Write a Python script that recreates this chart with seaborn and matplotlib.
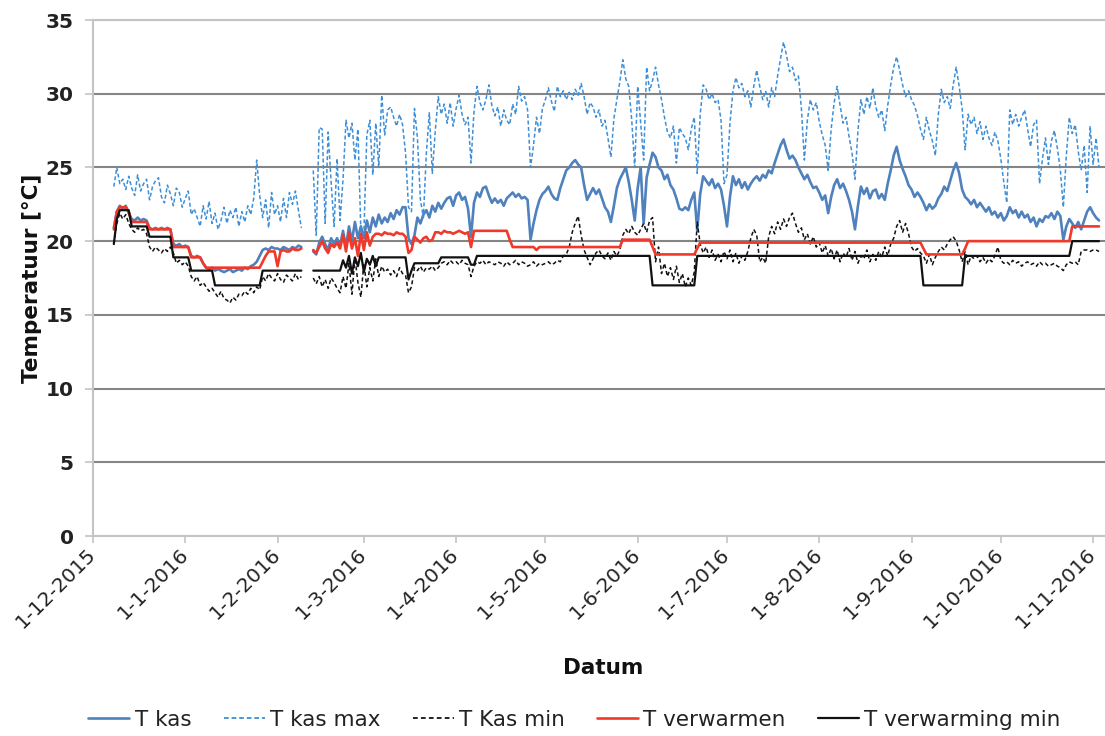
import numpy as np
import pandas as pd
import matplotlib
matplotlib.use("Agg")
import matplotlib.pyplot as plt
import matplotlib.dates as mdates
from matplotlib.lines import Line2D
import seaborn as sns

# Daily greenhouse temperatures, 8-12-2015 .. 3-11-2016 (None = no measurement)
start_date = "2015-12-08"

t_kas = [
    20.9, 22.0, 22.4, 22.2, 22.4, 21.9, 21.5, 21.4, 21.6, 21.4, 21.5, 21.4, 20.9, 20.8, 20.9, 20.8, 20.9, 20.8, 20.9, 20.8, 19.8, 19.7, 19.8, 19.6,
    19.7, 19.6, 19.0, 18.9, 19.0, 18.9, 18.5, 18.2, 18.1, 18.2, 18.0, 18.1, 18.0, 17.9, 18.0, 18.1, 17.9, 18.0, 18.1, 18.0, 18.2, 18.1, 18.3, 18.4, 18.6, 19.0, 19.4, 19.5, 19.4, 19.6, 19.5,
    19.5, 19.4, 19.6, 19.5, 19.4, 19.6, 19.5, 19.7, 19.6, None, None, None, 19.3, 19.1, 19.9, 20.3, 19.8, 19.4, 20.2, 19.8, 20.2, 19.7, 20.7, 19.6, 21.0, 20.0, 21.3, 20.2, 21.0,
    20.2, 21.4, 20.6, 21.6, 21.0, 21.8, 21.2, 21.6, 21.3, 21.9, 21.5, 22.1, 21.8, 22.3, 22.3, 20.2, 19.8, 20.4, 21.6, 21.2, 21.8, 22.1, 21.6, 22.4, 22.0, 22.6, 22.2, 22.6, 22.9, 23.0, 22.4,
    23.1, 23.3, 22.8, 23.0, 22.2, 20.3, 22.6, 23.3, 23.0, 23.6, 23.7, 23.1, 22.6, 22.9, 22.6, 22.8, 22.4, 22.9, 23.1, 23.3, 23.0, 23.2, 22.9, 23.0, 22.8, 20.1, 21.2, 22.1, 22.8, 23.2,
    23.4, 23.7, 23.2, 22.9, 22.8, 23.6, 24.2, 24.8, 25.0, 25.3, 25.5, 25.2, 25.0, 23.8, 22.8, 23.2, 23.6, 23.2, 23.5, 22.9, 22.3, 22.0, 21.3, 22.4, 23.6, 24.2, 24.6, 25.0, 24.0, 22.8, 21.4,
    23.6, 25.0, 21.2, 24.3, 25.2, 26.0, 25.7, 25.0, 24.8, 24.2, 24.5, 23.8, 23.5, 22.9, 22.2, 22.1, 22.3, 22.1, 22.8, 23.3, 20.7, 23.2, 24.4, 24.1, 23.8, 24.2, 23.6, 23.9, 23.5, 22.4,
    21.0, 23.0, 24.4, 23.8, 24.2, 23.6, 24.0, 23.5, 23.9, 24.2, 24.4, 24.1, 24.5, 24.3, 24.8, 24.6, 25.3, 25.9, 26.5, 26.9, 26.2, 25.6, 25.8, 25.5, 25.0, 24.6, 24.2, 24.5, 24.0, 23.6, 23.7,
    23.3, 22.8, 23.1, 21.9, 23.0, 23.8, 24.2, 23.6, 23.9, 23.4, 22.8, 22.0, 20.8, 22.4, 23.7, 23.2, 23.6, 22.9, 23.4, 23.5, 22.9, 23.2, 22.8, 23.9, 24.8, 25.8, 26.4, 25.5, 24.9, 24.4, 23.8,
    23.5, 23.0, 23.3, 23.0, 22.6, 22.1, 22.5, 22.2, 22.4, 22.9, 23.2, 23.7, 23.4, 24.1, 24.8, 25.3, 24.6, 23.5, 23.0, 22.8, 22.5, 22.8, 22.3, 22.6, 22.3, 22.0, 22.3, 21.8, 22.0, 21.6,
    21.9, 21.4, 21.7, 22.3, 21.9, 22.1, 21.6, 22.0, 21.6, 21.8, 21.3, 21.6, 21.0, 21.5, 21.3, 21.7, 21.6, 21.9, 21.5, 22.0, 21.7, 20.1, 21.0, 21.5, 21.2, 20.9, 21.3, 20.8, 21.4, 22.0, 22.3,
    21.9, 21.6, 21.4,
]

t_kas_max = [
    23.7, 25.0, 23.9, 24.2, 23.5, 24.4, 23.6, 23.1, 24.5, 23.4, 23.9, 24.2, 22.8, 23.7, 24.1, 24.3, 23.0, 22.6, 23.8, 23.2, 22.4, 23.6, 23.3, 22.3,
    22.9, 23.4, 21.8, 22.2, 21.6, 21.0, 22.4, 21.5, 22.7, 21.2, 21.9, 20.8, 21.4, 22.3, 21.2, 22.1, 21.6, 22.3, 21.0, 22.0, 21.3, 22.4, 21.8, 22.9, 25.5, 23.1, 21.6, 22.8, 20.9, 23.3, 21.8,
    22.4, 21.3, 22.9, 21.6, 23.3, 22.5, 23.4, 22.1, 20.9, None, None, None, 24.8, 20.4, 27.7, 27.6, 21.2, 27.4, 24.0, 21.0, 25.6, 21.4, 24.2, 28.2, 27.0, 28.0, 25.5, 27.6, 20.6,
    20.5, 27.2, 28.2, 24.5, 28.0, 25.0, 29.9, 27.2, 28.9, 29.1, 28.4, 27.8, 28.6, 27.9, 26.0, 22.3, 22.0, 29.0, 27.0, 22.8, 21.6, 26.0, 28.7, 24.6, 27.5, 29.8, 28.6, 29.3, 28.0, 29.4, 27.8,
    29.0, 29.9, 28.6, 27.9, 28.4, 25.3, 28.8, 30.5, 29.4, 28.9, 29.6, 30.6, 29.2, 28.5, 29.1, 27.8, 28.9, 28.2, 27.9, 29.3, 28.6, 30.5, 29.5, 29.8, 28.9, 25.0, 26.5, 28.4, 27.3, 29.0,
    29.6, 30.4, 29.5, 28.8, 30.5, 29.8, 30.2, 29.6, 30.1, 29.6, 30.3, 29.9, 30.7, 29.8, 28.6, 29.4, 29.1, 28.4, 28.9, 27.8, 28.2, 27.0, 25.7, 28.3, 29.6, 30.8, 32.3, 31.0, 30.5, 28.2, 25.0,
    30.5, 28.0, 25.5, 31.8, 30.2, 30.9, 31.8, 30.6, 29.6, 28.4, 27.4, 27.0, 27.8, 25.3, 27.7, 27.3, 27.0, 26.2, 27.6, 28.4, 24.6, 28.6, 30.6, 30.3, 29.6, 30.0, 29.4, 29.6, 28.2, 23.9,
    24.5, 28.0, 30.2, 31.1, 30.4, 30.7, 29.8, 30.2, 29.1, 30.5, 31.6, 30.5, 29.6, 30.2, 29.1, 30.4, 29.8, 31.2, 32.4, 33.5, 32.6, 31.5, 31.8, 30.9, 31.2, 29.0, 25.5, 28.2, 29.6, 28.9, 29.4,
    28.1, 27.2, 26.5, 24.8, 27.6, 29.4, 30.5, 29.2, 28.0, 28.4, 27.1, 26.0, 24.2, 27.5, 29.6, 28.6, 29.8, 29.0, 30.4, 29.1, 28.4, 28.9, 27.5, 29.2, 30.6, 31.8, 32.5, 31.6, 30.6, 29.8, 30.2,
    29.6, 29.2, 28.5, 27.6, 26.9, 28.4, 27.5, 26.8, 25.8, 28.6, 30.3, 29.4, 29.8, 29.0, 30.6, 31.8, 30.5, 29.0, 26.2, 28.6, 27.9, 28.4, 27.3, 28.1, 26.9, 27.8, 27.0, 26.5, 27.4, 26.8,
    25.6, 24.0, 22.6, 28.9, 27.9, 28.6, 27.8, 28.4, 28.9, 27.6, 26.4, 27.9, 28.2, 23.9, 25.6, 27.0, 25.2, 26.8, 27.5, 26.3, 24.8, 22.3, 25.8, 28.4, 27.3, 27.9, 26.1, 24.8, 26.5, 23.3, 27.8,
    25.2, 27.0, 25.0,
]

t_kas_min = [
    19.8, 21.2, 21.9, 21.5, 21.8, 21.2, 20.8, 20.6, 20.9, 20.7, 20.8, 20.5, 19.6, 19.3, 19.6, 19.4, 19.2, 19.5, 19.3, 19.6, 19.2, 18.5, 18.7, 18.4,
    18.6, 18.3, 17.6, 17.3, 17.6, 17.0, 17.2, 16.9, 16.6, 16.8, 16.5, 16.2, 16.6, 16.1, 16.0, 15.8, 16.2, 16.0, 16.4, 16.3, 16.6, 16.4, 16.8, 16.5, 16.9, 16.7, 17.6, 17.3, 17.8, 17.5, 17.3,
    17.8, 17.4, 17.2, 17.7, 17.5, 17.3, 17.8, 17.4, 17.6, None, None, None, 17.5, 17.1, 17.6, 16.9, 17.4, 16.8, 17.5, 17.2, 16.8, 16.5, 17.6, 16.8, 18.5, 16.4, 18.9, 17.2, 16.2,
    18.5, 16.9, 18.2, 17.3, 18.8, 17.6, 18.3, 17.9, 18.1, 17.7, 18.0, 17.6, 18.2, 17.8, 17.7, 16.5, 16.9, 18.2, 18.0, 18.3, 17.9, 18.2, 18.1, 18.3, 18.0, 18.2, 18.5, 18.6, 18.4, 18.7, 18.5,
    18.6, 18.4, 18.7, 18.5, 18.4, 17.6, 18.3, 18.6, 18.5, 18.7, 18.4, 18.6, 18.5, 18.4, 18.6, 18.5, 18.3, 18.6, 18.4, 18.5, 18.7, 18.4, 18.6, 18.5, 18.3, 18.4, 18.6, 18.3, 18.5, 18.4,
    18.5, 18.6, 18.4, 18.5, 18.7, 18.6, 19.0, 19.1, 19.6, 20.6, 21.2, 21.7, 20.4, 19.4, 18.9, 18.4, 18.8, 19.2, 19.4, 19.0, 18.8, 19.2, 18.7, 19.3, 19.0, 19.4, 20.4, 20.8, 20.5, 21.0, 20.6,
    20.4, 20.8, 21.2, 20.6, 21.4, 21.6, 18.6, 19.6, 17.8, 18.5, 17.6, 18.2, 17.4, 18.3, 17.2, 17.8, 16.9, 17.5, 17.0, 17.9, 21.3, 19.8, 19.2, 19.6, 18.9, 19.4, 18.7, 19.1, 18.6, 19.3,
    18.8, 19.4, 18.6, 19.2, 18.5, 19.0, 18.7, 19.3, 20.2, 20.8, 20.4, 18.6, 18.9, 18.5, 20.3, 21.0, 20.5, 21.3, 20.8, 21.5, 21.0, 21.6, 21.9, 21.2, 20.6, 20.9, 20.1, 20.5, 19.8, 20.3, 19.6,
    19.9, 19.2, 19.7, 19.0, 19.5, 18.8, 19.4, 18.6, 19.2, 18.9, 19.5, 18.7, 19.3, 18.5, 19.0, 18.8, 19.4, 18.6, 19.1, 18.7, 19.3, 18.9, 19.6, 19.0, 19.8, 20.2, 21.0, 21.4, 20.6, 21.2, 20.5,
    19.6, 19.3, 19.5, 19.2, 19.0, 18.5, 19.1, 18.4, 18.9, 19.3, 19.6, 19.4, 19.8, 20.1, 20.3, 20.0, 19.4, 18.6, 19.3, 18.4, 19.0, 18.8, 19.0, 18.6, 18.9, 18.5, 18.8, 18.6, 19.0, 19.6,
    18.7, 18.5, 18.6, 18.4, 18.7, 18.5, 18.6, 18.3, 18.5, 18.6, 18.4, 18.5, 18.3, 18.6, 18.4, 18.5, 18.3, 18.4, 18.5, 18.3, 18.2, 18.0, 18.4, 18.6, 18.5, 18.6, 18.4, 19.3, 19.4, 19.4, 19.3,
    19.4, 19.4, 19.3,
]

t_verwarmen = [
    20.8, 22.0, 22.3, 22.3, 22.3, 22.0, 21.3, 21.3, 21.3, 21.3, 21.3, 21.3, 20.8, 20.8, 20.8, 20.8, 20.8, 20.8, 20.8, 20.8, 19.6, 19.6, 19.6, 19.6,
    19.6, 19.6, 18.9, 18.9, 18.9, 18.9, 18.5, 18.2, 18.2, 18.2, 18.2, 18.2, 18.2, 18.2, 18.2, 18.2, 18.2, 18.2, 18.2, 18.2, 18.2, 18.2, 18.2, 18.2, 18.2, 18.2, 18.6, 19.0, 19.3, 19.3, 19.3,
    18.3, 19.3, 19.4, 19.3, 19.3, 19.5, 19.4, 19.4, 19.5, None, None, None, 19.4, 19.2, 19.6, 20.0, 19.5, 19.2, 19.8, 19.6, 19.9, 19.5, 20.4, 19.3, 20.6, 19.5, 20.2, 19.0, 20.5,
    19.4, 20.6, 19.7, 20.3, 20.5, 20.5, 20.4, 20.6, 20.5, 20.5, 20.4, 20.6, 20.5, 20.5, 20.3, 19.2, 19.4, 20.3, 20.1, 19.9, 20.2, 20.3, 20.0, 20.1, 20.6, 20.6, 20.5, 20.7, 20.6, 20.6, 20.5,
    20.6, 20.7, 20.6, 20.5, 20.6, 19.6, 20.7, 20.7, 20.7, 20.7, 20.7, 20.7, 20.7, 20.7, 20.7, 20.7, 20.7, 20.7, 20.1, 19.6, 19.6, 19.6, 19.6, 19.6, 19.6, 19.6, 19.6, 19.4, 19.6, 19.6,
    19.6, 19.6, 19.6, 19.6, 19.6, 19.6, 19.6, 19.6, 19.6, 19.6, 19.6, 19.6, 19.6, 19.6, 19.6, 19.6, 19.6, 19.6, 19.6, 19.6, 19.6, 19.6, 19.6, 19.6, 19.6, 19.6, 20.1, 20.1, 20.1, 20.1, 20.1,
    20.1, 20.1, 20.1, 20.1, 20.1, 19.6, 19.1, 19.1, 19.1, 19.1, 19.1, 19.1, 19.1, 19.1, 19.1, 19.1, 19.1, 19.1, 19.1, 19.1, 19.5, 19.9, 19.9, 19.9, 19.9, 19.9, 19.9, 19.9, 19.9, 19.9,
    19.9, 19.9, 19.9, 19.9, 19.9, 19.9, 19.9, 19.9, 19.9, 19.9, 19.9, 19.9, 19.9, 19.9, 19.9, 19.9, 19.9, 19.9, 19.9, 19.9, 19.9, 19.9, 19.9, 19.9, 19.9, 19.9, 19.9, 19.9, 19.9, 19.9, 19.9,
    19.9, 19.9, 19.9, 19.9, 19.9, 19.9, 19.9, 19.9, 19.9, 19.9, 19.9, 19.9, 19.9, 19.9, 19.9, 19.9, 19.9, 19.9, 19.9, 19.9, 19.9, 19.9, 19.9, 19.9, 19.9, 19.9, 19.9, 19.9, 19.9, 19.9, 19.9,
    19.9, 19.9, 19.9, 19.9, 19.5, 19.1, 19.1, 19.1, 19.1, 19.1, 19.1, 19.1, 19.1, 19.1, 19.1, 19.1, 19.1, 19.1, 19.5, 20.0, 20.0, 20.0, 20.0, 20.0, 20.0, 20.0, 20.0, 20.0, 20.0, 20.0,
    20.0, 20.0, 20.0, 20.0, 20.0, 20.0, 20.0, 20.0, 20.0, 20.0, 20.0, 20.0, 20.0, 20.0, 20.0, 20.0, 20.0, 20.0, 20.0, 20.0, 20.0, 20.0, 20.0, 20.0, 21.0, 21.0, 21.0, 21.0, 21.0, 21.0, 21.0,
    21.0, 21.0, 21.0,
]

t_verwarming_min = [
    19.8, 21.5, 22.1, 22.1, 22.1, 22.1, 21.0, 21.0, 21.0, 21.0, 21.0, 21.0, 20.3, 20.3, 20.3, 20.3, 20.3, 20.3, 20.3, 20.3, 18.9, 18.9, 18.9, 18.9,
    18.9, 18.9, 18.0, 18.0, 18.0, 18.0, 18.0, 18.0, 18.0, 18.0, 17.0, 17.0, 17.0, 17.0, 17.0, 17.0, 17.0, 17.0, 17.0, 17.0, 17.0, 17.0, 17.0, 17.0, 17.0, 17.0, 18.0, 18.0, 18.0, 18.0, 18.0,
    18.0, 18.0, 18.0, 18.0, 18.0, 18.0, 18.0, 18.0, 18.0, None, None, None, 18.0, 18.0, 18.0, 18.0, 18.0, 18.0, 18.0, 18.0, 18.0, 18.0, 18.7, 18.2, 19.0, 17.8, 18.9, 18.3, 19.2,
    17.9, 18.8, 18.4, 19.0, 18.3, 18.9, 18.9, 18.9, 18.9, 18.9, 18.9, 18.9, 18.9, 18.9, 18.9, 17.4, 18.0, 18.5, 18.5, 18.5, 18.5, 18.5, 18.5, 18.5, 18.5, 18.5, 18.9, 18.9, 18.9, 18.9, 18.9,
    18.9, 18.9, 18.9, 18.9, 18.9, 18.4, 18.4, 19.0, 19.0, 19.0, 19.0, 19.0, 19.0, 19.0, 19.0, 19.0, 19.0, 19.0, 19.0, 19.0, 19.0, 19.0, 19.0, 19.0, 19.0, 19.0, 19.0, 19.0, 19.0, 19.0,
    19.0, 19.0, 19.0, 19.0, 19.0, 19.0, 19.0, 19.0, 19.0, 19.0, 19.0, 19.0, 19.0, 19.0, 19.0, 19.0, 19.0, 19.0, 19.0, 19.0, 19.0, 19.0, 19.0, 19.0, 19.0, 19.0, 19.0, 19.0, 19.0, 19.0, 19.0,
    19.0, 19.0, 19.0, 19.0, 19.0, 17.0, 17.0, 17.0, 17.0, 17.0, 17.0, 17.0, 17.0, 17.0, 17.0, 17.0, 17.0, 17.0, 17.0, 17.0, 19.0, 19.0, 19.0, 19.0, 19.0, 19.0, 19.0, 19.0, 19.0, 19.0,
    19.0, 19.0, 19.0, 19.0, 19.0, 19.0, 19.0, 19.0, 19.0, 19.0, 19.0, 19.0, 19.0, 19.0, 19.0, 19.0, 19.0, 19.0, 19.0, 19.0, 19.0, 19.0, 19.0, 19.0, 19.0, 19.0, 19.0, 19.0, 19.0, 19.0, 19.0,
    19.0, 19.0, 19.0, 19.0, 19.0, 19.0, 19.0, 19.0, 19.0, 19.0, 19.0, 19.0, 19.0, 19.0, 19.0, 19.0, 19.0, 19.0, 19.0, 19.0, 19.0, 19.0, 19.0, 19.0, 19.0, 19.0, 19.0, 19.0, 19.0, 19.0, 19.0,
    19.0, 19.0, 19.0, 19.0, 17.0, 17.0, 17.0, 17.0, 17.0, 17.0, 17.0, 17.0, 17.0, 17.0, 17.0, 17.0, 17.0, 17.0, 19.0, 19.0, 19.0, 19.0, 19.0, 19.0, 19.0, 19.0, 19.0, 19.0, 19.0, 19.0,
    19.0, 19.0, 19.0, 19.0, 19.0, 19.0, 19.0, 19.0, 19.0, 19.0, 19.0, 19.0, 19.0, 19.0, 19.0, 19.0, 19.0, 19.0, 19.0, 19.0, 19.0, 19.0, 19.0, 19.0, 20.0, 20.0, 20.0, 20.0, 20.0, 20.0, 20.0,
    20.0, 20.0, 20.0,
]

series_names = ["T kas", "T kas max", "T Kas min", "T verwarmen", "T verwarming min"]
series_values = [t_kas, t_kas_max, t_kas_min, t_verwarmen, t_verwarming_min]

tick_dates = ["2015-12-01", "2016-01-01", "2016-02-01", "2016-03-01", "2016-04-01", "2016-05-01",
              "2016-06-01", "2016-07-01", "2016-08-01", "2016-09-01", "2016-10-01", "2016-11-01"]
y_ticks = [0, 5, 10, 15, 20, 25, 30, 35]

# line appearance per series
styles = {
    "T kas": dict(color="#4f81bd", linewidth=1.9, linestyle="-"),
    "T kas max": dict(color="#3d8fd8", linewidth=1.1, linestyle=(0, (2.6, 1.6))),
    "T Kas min": dict(color="#111111", linewidth=1.1, linestyle=(0, (2.6, 1.8))),
    "T verwarmen": dict(color="#f0392b", linewidth=1.9, linestyle="-"),
    "T verwarming min": dict(color="#111111", linewidth=1.6, linestyle="-"),
}

sns.set_theme(style="white")
plt.rcParams["font.family"] = ["DejaVu Sans"]

dates = pd.date_range(start_date, periods=len(t_kas), freq="D")
frames = []
for name, vals in zip(series_names, series_values):
    v = np.array(vals, dtype=float)
    frames.append(pd.DataFrame({"datum": dates, "temp": v, "reeks": name,
                                "deel": np.cumsum(np.isnan(v))}))
df = pd.concat(frames, ignore_index=True).dropna(subset=["temp"])

W, H = 1105, 736
fig = plt.figure(figsize=(W / 100, H / 100), dpi=100)
ax = fig.add_axes([93 / W, 1 - 536 / H, (W - 93) / W, 516 / H])

for name in series_names:
    sub = df[df["reeks"] == name]
    sns.lineplot(data=sub, x="datum", y="temp", units="deel", estimator=None,
                 ax=ax, legend=False, **styles[name])

ax.set_xlim(pd.Timestamp("2015-12-01"), pd.Timestamp("2016-11-05"))
ax.set_ylim(0, 35)
ax.set_yticks(y_ticks)
ticks = pd.to_datetime(tick_dates)
ax.set_xticks(ticks)
ax.set_xticklabels([f"{d.day}-{d.month}-{d.year}" for d in ticks])

# horizontal grid
ax.set_axisbelow(True)
ax.yaxis.grid(True, color="#858585", linewidth=1.5)
ax.xaxis.grid(False)
for val, gl in zip(y_ticks, ax.get_ygridlines()):
    if val in (0, 35):
        gl.set_color("#bdbdbd")

for side in ("right",):
    ax.spines[side].set_visible(False)
for side in ("left", "bottom", "top"):
    ax.spines[side].set_color("#c4c4c4")
    ax.spines[side].set_linewidth(1.5)

ax.tick_params(axis="y", which="major", direction="out", length=6, width=1.2,
               color="#c4c4c4", pad=8, labelsize=14.5, labelcolor="#222222", left=True)
ax.tick_params(axis="x", which="major", direction="out", length=5, width=1.2,
               color="#c4c4c4", pad=6, labelsize=14.5, labelcolor="#222222", bottom=True)
for lab in ax.get_yticklabels():
    lab.set_fontweight("bold")
for lab in ax.get_xticklabels():
    lab.set_rotation(45)
    lab.set_ha("right")
    lab.set_va("center")
    lab.set_rotation_mode("anchor")

ax.set_xlabel("Datum", fontsize=15.5, fontweight="bold", color="#111111")
ax.set_ylabel("Temperatuur [°C]", fontsize=15.5, fontweight="bold", color="#111111")
ax.xaxis.set_label_coords((603 - 93) / (W - 93), (536 - 658) / 516)
ax.yaxis.set_label_coords((42 - 93) / (W - 93), 0.5)

handles = [Line2D([], [], **styles[n]) for n in series_names]
for h in handles:
    if h.get_linewidth() < 1.5:
        h.set_linewidth(1.3)
fig.legend(handles, series_names, loc="center", bbox_to_anchor=(0.52, 1 - 720 / H),
           ncol=5, frameon=False, fontsize=15.5, handlelength=1.9, handletextpad=0.25,
           columnspacing=1.5, labelcolor="#222222")

fig.savefig("out.png", dpi=100)
